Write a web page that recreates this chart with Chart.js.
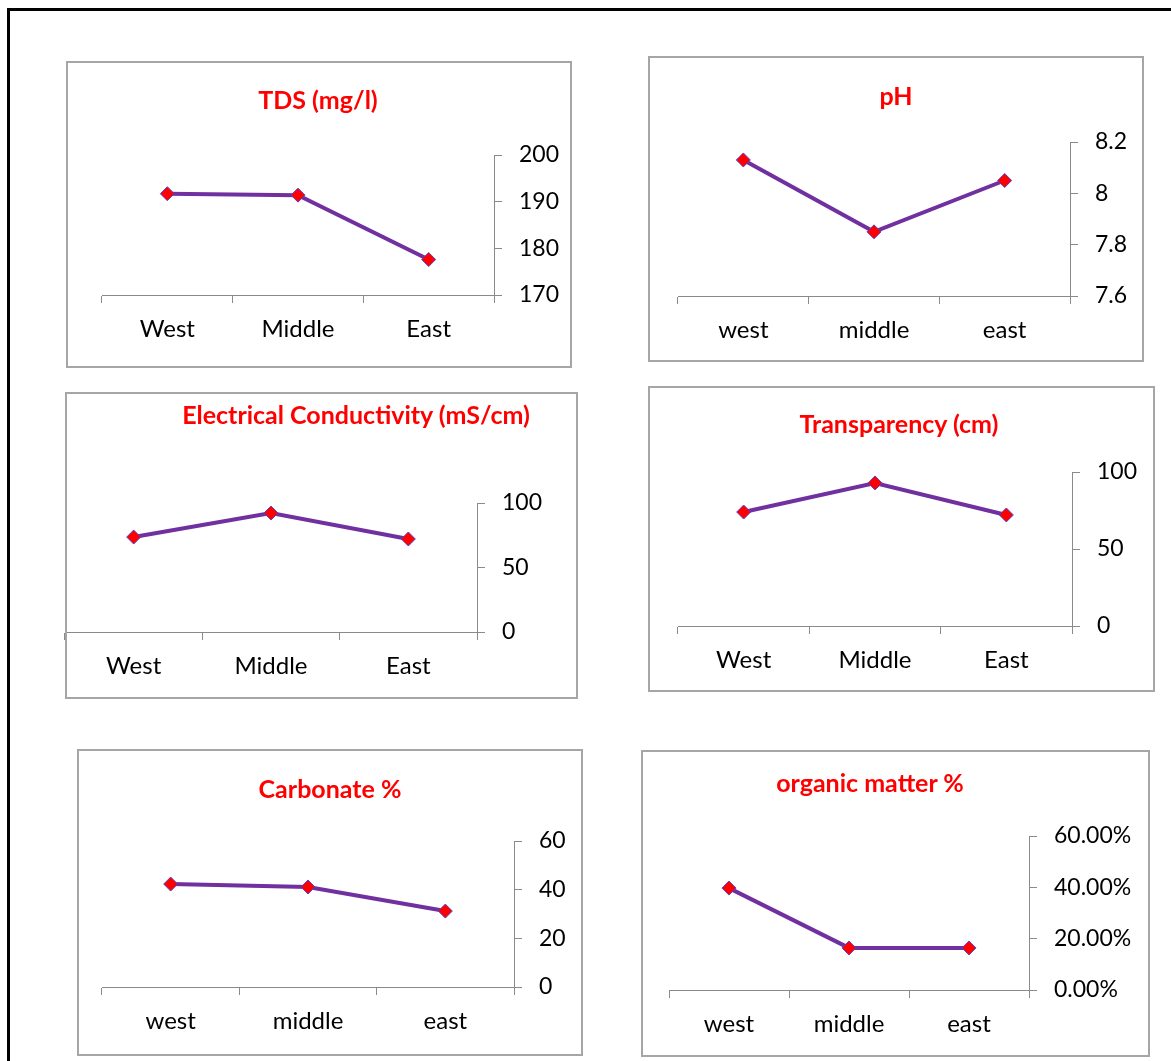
<!DOCTYPE html>
<html>
<head>
<meta charset="utf-8">
<script src="https://cdn.jsdelivr.net/npm/chart.js@4.4.1/dist/chart.umd.min.js"></script>
<style>
  html, body { margin: 0; padding: 0; background: #fff; }
  body { width: 1171px; height: 1061px; position: relative; overflow: hidden; font-family: Lato, "Open Sans", sans-serif; }
  .sheet { position: absolute; left: 7px; top: 8px; width: 1200px; height: 1100px; border: 3px solid #000; box-sizing: border-box; }
  .panel { position: absolute; }
  .panel canvas { position: absolute; top: 0; }
  .frame { position: absolute; left: 0; top: 0; right: 0; bottom: 0; border: 2px solid #a6a6a6; box-sizing: border-box; pointer-events: none; }
  .title { position: absolute; transform: translate(-50%, -50%); color: #ff0000; font-weight: bold; font-size: 25px; white-space: nowrap; }
</style>
</head>
<body>
<div class="sheet"></div>
<script>
// Sampling sites
const sitesUpper = ['West', 'Middle', 'East'];
const sitesLower = ['west', 'middle', 'east'];

// Measured values per site (west, middle, east)
const tdsValues = [191.7, 191.4, 177.6];
const phValues = [8.13, 7.85, 8.05];
const ecValues = [73.6, 92.2, 72.1];
const transparencyValues = [74.0, 92.9, 72.1];
const carbonateValues = [42.3, 41.1, 31.2];
const organicValues = [0.397, 0.164, 0.164];

// Value-axis ticks and their labels
const tdsTicks = [170, 180, 190, 200];
const tdsTickLabels = ['170', '180', '190', '200'];
const phTicks = [7.6, 7.8, 8.0, 8.2];
const phTickLabels = ['7.6', '7.8', '8', '8.2'];
const ecTicks = [0, 50, 100];
const ecTickLabels = ['0', '50', '100'];
const transparencyTicks = [0, 50, 100];
const transparencyTickLabels = ['0', '50', '100'];
const carbonateTicks = [0, 20, 40, 60];
const carbonateTickLabels = ['0', '20', '40', '60'];
const organicTicks = [0, 0.2, 0.4, 0.6];
const organicTickLabels = ['0.00%', '20.00%', '40.00%', '60.00%'];

// Chart titles
const titles = ['TDS (mg/l)', 'pH', 'Electrical Conductivity (mS/cm)', 'Transparency (cm)', 'Carbonate %', 'organic matter %'];

// Page layout of the six panels: frame box, plot area, title centre
const panels = [
  { title: titles[0], cats: sitesUpper, values: tdsValues, ticks: tdsTicks, tickLabels: tdsTickLabels,
    box: [66, 61, 572, 368], plot: [102, 494, 155, 295], titleAt: [318, 99] },
  { title: titles[1], cats: sitesLower, values: phValues, ticks: phTicks, tickLabels: phTickLabels,
    box: [648, 56, 1144, 362], plot: [678, 1070, 142, 296], titleAt: [896, 95] },
  { title: titles[2], cats: sitesUpper, values: ecValues, ticks: ecTicks, tickLabels: ecTickLabels,
    box: [65, 392, 578, 699], plot: [65, 477, 503, 632], titleAt: [356, 414] },
  { title: titles[3], cats: sitesUpper, values: transparencyValues, ticks: transparencyTicks, tickLabels: transparencyTickLabels,
    box: [648, 386, 1155, 692], plot: [678, 1072, 472, 626], titleAt: [899, 423] },
  { title: titles[4], cats: sitesLower, values: carbonateValues, ticks: carbonateTicks, tickLabels: carbonateTickLabels,
    box: [77, 749, 583, 1056], plot: [102, 514, 841, 987], titleAt: [330, 788] },
  { title: titles[5], cats: sitesLower, values: organicValues, ticks: organicTicks, tickLabels: organicTickLabels,
    box: [641, 750, 1150, 1057], plot: [669, 1029, 836, 990], titleAt: [870, 782] }
];

const FONT = 'Lato, "Open Sans", sans-serif';
const AXIS_GREY = '#8a8a8a';
const LEFT_BLEED = 20; // canvas starts a little left of the frame so the axis can reach the frame edge

function buildPanel(p) {
  const [L, T, R, B] = p.box;
  const [x0, x1, yTop, yBottom] = p.plot;
  const W = R - L, H = B - T;

  const wrap = document.createElement('div');
  wrap.className = 'panel';
  Object.assign(wrap.style, { left: L + 'px', top: T + 'px', width: W + 'px', height: H + 'px' });

  const canvas = document.createElement('canvas');
  canvas.width = W + LEFT_BLEED; canvas.height = H;
  canvas.style.left = (-LEFT_BLEED) + 'px';
  wrap.appendChild(canvas);

  const frame = document.createElement('div');
  frame.className = 'frame';
  wrap.appendChild(frame);

  const title = document.createElement('div');
  title.className = 'title';
  title.textContent = p.title;
  title.style.left = (p.titleAt[0] - L) + 'px';
  title.style.top = (p.titleAt[1] - T) + 'px';
  wrap.appendChild(title);

  document.body.appendChild(wrap);

  const yAxisWidth = R - x1;
  const xAxisHeight = B - yBottom;

  new Chart(canvas.getContext('2d'), {
    type: 'line',
    data: {
      labels: p.cats,
      datasets: [{
        data: p.values,
        borderColor: '#7030a0',
        borderWidth: 4,
        tension: 0,
        pointStyle: 'rectRot',
        pointRadius: 7,
        pointHoverRadius: 7,
        pointBackgroundColor: '#ff0000',
        pointBorderColor: '#5b3fc4',
        pointBorderWidth: 1,
        clip: false
      }]
    },
    options: {
      responsive: false,
      animation: false,
      events: [],
      layout: { padding: { left: x0 - L + LEFT_BLEED, top: yTop - T, right: 0, bottom: 0 } },
      plugins: { legend: { display: false }, title: { display: false }, tooltip: { enabled: false } },
      scales: {
        x: {
          type: 'category',
          offset: true,
          grid: { offset: true, drawOnChartArea: false, drawTicks: true, tickLength: 8, color: AXIS_GREY, lineWidth: 1 },
          border: { color: AXIS_GREY, width: 1 },
          ticks: { color: '#000', font: { family: FONT, size: 24 }, padding: 12, maxRotation: 0, autoSkip: false },
          afterFit: s => { s.height = xAxisHeight; }
        },
        y: {
          position: 'right',
          min: p.ticks[0],
          max: p.ticks[p.ticks.length - 1],
          afterBuildTicks: s => { s.ticks = p.ticks.map(v => ({ value: v })); },
          grid: { drawOnChartArea: false, drawTicks: true, tickLength: 8, color: AXIS_GREY, lineWidth: 1 },
          border: { color: AXIS_GREY, width: 1 },
          ticks: { color: '#000', font: { family: FONT, size: 23 }, padding: 17,
                   callback: (v, i) => p.tickLabels[i] },
          afterFit: s => { s.width = yAxisWidth; }
        }
      }
    }
  });
}

panels.forEach(buildPanel);
</script>
</body>
</html>
